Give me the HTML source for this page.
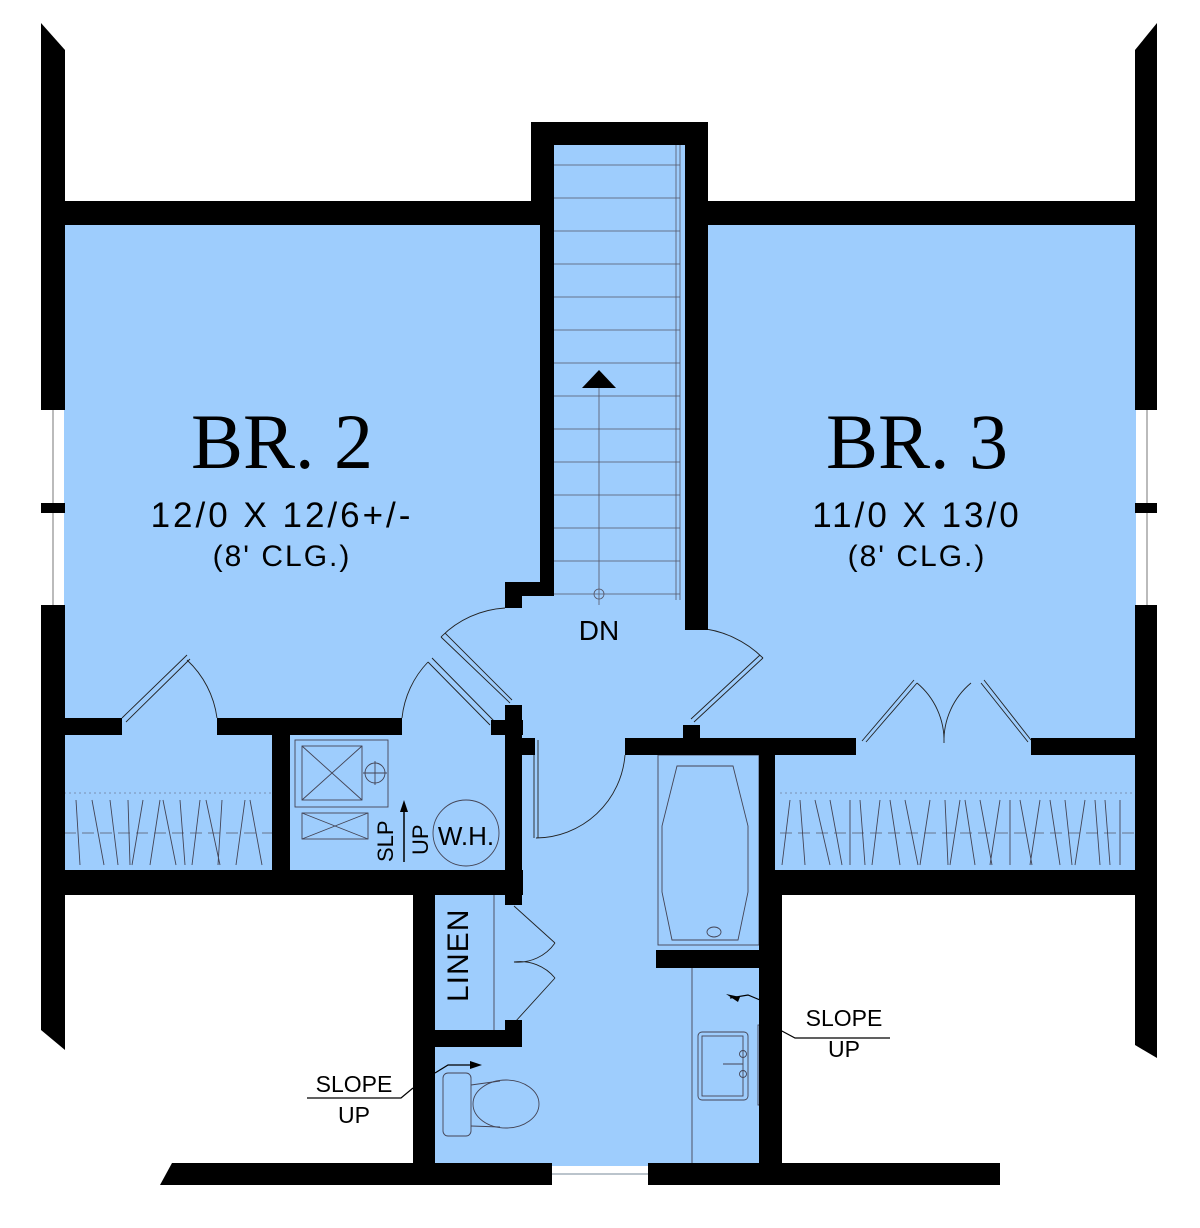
<!DOCTYPE html>
<html><head><meta charset="utf-8"><style>
html,body{margin:0;padding:0;background:#fff;width:1200px;height:1228px;overflow:hidden}
svg{display:block}
.t{font-family:"Liberation Sans",sans-serif;fill:#000}
</style></head><body>
<svg width="1200" height="1228" viewBox="0 0 1200 1228" xmlns="http://www.w3.org/2000/svg">
<!-- blue fills -->
<g fill="#9ecdfd">
<rect x="64" y="224" width="1072" height="648"/>
<rect x="552" y="144" width="134" height="460"/>
<rect x="433" y="870" width="330" height="296"/>
</g>
<!-- window lines -->
<line x1="53" y1="410" x2="53" y2="606" stroke="#777" stroke-width="1"/>
<line x1="1147" y1="410" x2="1147" y2="606" stroke="#777" stroke-width="1"/>
<line x1="552" y1="1174" x2="648" y2="1174" stroke="#789" stroke-width="1"/>
<!-- stairs -->
<g stroke="#556" stroke-width="0.8" fill="none">
<line x1="553" y1="165" x2="680" y2="165"/>
<line x1="553" y1="198" x2="680" y2="198"/>
<line x1="553" y1="231" x2="680" y2="231"/>
<line x1="553" y1="264" x2="680" y2="264"/>
<line x1="553" y1="297" x2="680" y2="297"/>
<line x1="553" y1="330" x2="680" y2="330"/>
<line x1="553" y1="363" x2="680" y2="363"/>
<line x1="553" y1="396" x2="680" y2="396"/>
<line x1="553" y1="429" x2="680" y2="429"/>
<line x1="553" y1="462" x2="680" y2="462"/>
<line x1="553" y1="495" x2="680" y2="495"/>
<line x1="553" y1="528" x2="680" y2="528"/>
<line x1="553" y1="561" x2="680" y2="561"/>
<line x1="553" y1="594" x2="680" y2="594"/>
<line x1="676" y1="145" x2="676" y2="600"/>
<line x1="680" y1="145" x2="680" y2="600"/>
<line x1="599" y1="388" x2="599" y2="605"/>
<circle cx="599" cy="594" r="5"/>
</g>
<polygon points="582,388 616,388 599,370" fill="#000"/>
<!-- closet hatch -->
<g stroke="#556" stroke-width="0.8" fill="none">
<line x1="64" y1="833" x2="272" y2="833" stroke-dasharray="12 6"/>
<line x1="780" y1="833" x2="1135" y2="833" stroke-dasharray="12 6"/>
<line x1="64" y1="793" x2="272" y2="793" stroke-dasharray="2 3" stroke-width="0.5"/>
<line x1="780" y1="793" x2="1135" y2="793" stroke-dasharray="2 3" stroke-width="0.5"/>
</g>
<g stroke="#445" stroke-width="0.9">
<path d="M76 800L80 865M92 800L104 865M110 800L118 865M128 800L130 865M143 800L132 865M160 800L150 865M163 800L176 865M180 800L185 865M200 800L192 865M206 800L220 865M222 800L218 865M245 800L236 865M250 800L262 865"/>
<path d="M790 800L782 865M800 800L805 865M815 800L830 865M830 800L842 865M850 800L850 865M860 800L865 865M880 800L872 865M890 800L900 865M905 800L918 865M930 800L920 865M945 800L948 865M960 800L950 865M965 800L975 865M980 800L992 865M1000 800L990 865M1010 800L1010 865M1020 800L1032 865M1040 800L1030 865M1050 800L1060 865M1065 800L1072 865M1085 800L1075 865M1095 800L1100 865M1105 800L1110 865M1120 800L1120 865"/>
</g>
<!-- fixtures -->
<g stroke="#445" stroke-width="0.9" fill="none">
<rect x="295" y="740" width="93" height="67"/>
<rect x="302" y="746" width="60" height="54"/>
<line x1="302" y1="746" x2="362" y2="800"/><line x1="362" y1="746" x2="302" y2="800"/>
<circle cx="375" cy="773" r="10"/><line x1="363" y1="773" x2="387" y2="773"/><line x1="375" y1="761" x2="375" y2="785"/>
<rect x="302" y="813" width="66" height="26"/>
<line x1="302" y1="813" x2="368" y2="839"/><line x1="368" y1="813" x2="302" y2="839"/>
<circle cx="466" cy="833" r="33"/>
<!-- tub -->
<rect x="658" y="755" width="101" height="190"/>
<polygon points="677,766 733,766 748,826 748,892 738,940 672,940 662,892 662,826"/>
<ellipse cx="714" cy="932" rx="7" ry="5"/>
<line x1="692" y1="968" x2="692" y2="1163"/>
<!-- sink -->
<rect x="698" y="1032" width="50" height="68" rx="4"/>
<rect x="702" y="1036" width="41" height="60"/>
<circle cx="743" cy="1054" r="3.5"/><circle cx="743" cy="1074" r="3.5"/>
<line x1="723" y1="1064" x2="743" y2="1064"/>
<rect x="758" y="1025" width="4" height="80"/>
<!-- toilet -->
<rect x="443" y="1073" width="28" height="63" rx="5"/>
<ellipse cx="506" cy="1104" rx="33" ry="24"/>
<path d="M471 1085L500 1081M471 1126L500 1127"/>
<!-- linen shelf -->
<line x1="494" y1="895" x2="494" y2="1030"/>
</g>
<!-- doors -->
<g stroke="#222" stroke-width="0.9" fill="none">
<path d="M187 660 A96 96 0 0 1 217 718"/>
<path d="M122 718 L187 655 M126 722 L190 659"/>
<path d="M402 718 A95 95 0 0 1 428 662"/>
<path d="M428 662 L490 725 M432 658 L494 721"/>
<path d="M505 608 A98 98 0 0 0 441 637"/>
<path d="M441 637 L510 703 M445 633 L512 700"/>
<path d="M698 628 A105 105 0 0 1 763 658"/>
<path d="M763 658 L694 722 M760 655 L691 719"/>
<path d="M534 740 L534 838 M538 740 L538 838"/>
<path d="M536 838 A90 90 0 0 0 625 755"/>
<path d="M866 742 L917 683 M862 741 L914 680"/>
<path d="M917 683 A75 75 0 0 1 944 743 M944 743 A75 75 0 0 1 971 683"/>
<path d="M981 683 L1028 742 M984 680 L1031 740"/>
<path d="M514 906 L555 943 M515 1022 L555 978"/>
<path d="M555 943 A45 45 0 0 1 514 962 M514 962 A45 45 0 0 1 555 978"/>
</g>
<!-- walls -->
<g fill="#000">
<polygon points="41,23 65,50 65,410 41,410"/>
<rect x="41" y="503" width="24" height="10"/>
<polygon points="41,605 65,605 65,1050 41,1030"/>
<polygon points="1135,50 1157,23 1157,410 1135,410"/>
<rect x="1135" y="503" width="22" height="10"/>
<polygon points="1135,605 1157,605 1157,1058 1135,1045"/>
<rect x="41" y="201" width="505" height="24"/>
<rect x="685" y="201" width="472" height="24"/>
<rect x="531" y="122" width="177" height="23"/>
<rect x="531" y="122" width="23" height="98"/>
<rect x="540" y="200" width="14" height="380"/>
<rect x="685" y="122" width="23" height="508"/>
<polygon points="505,582 540,582 540,565 554,565 554,596 522,596 522,608 505,608"/>
<rect x="41" y="718" width="81" height="17"/>
<rect x="217" y="718" width="185" height="17"/>
<rect x="272" y="735" width="18" height="140"/>
<rect x="41" y="870" width="482" height="25"/>
<rect x="505" y="705" width="17" height="35"/>
<rect x="491" y="720" width="32" height="15"/>
<rect x="505" y="738" width="30" height="17"/>
<rect x="505" y="738" width="17" height="155"/>
<rect x="413" y="893" width="22" height="272"/>
<rect x="505" y="890" width="17" height="15"/>
<rect x="505" y="1020" width="17" height="27"/>
<rect x="413" y="1030" width="109" height="17"/>
<rect x="625" y="738" width="231" height="17"/>
<rect x="683" y="725" width="17" height="15"/>
<rect x="1031" y="738" width="126" height="17"/>
<rect x="759" y="738" width="16" height="140"/>
<rect x="759" y="870" width="398" height="25"/>
<rect x="759" y="870" width="23" height="295"/>
<rect x="656" y="950" width="126" height="18"/>
<polygon points="172,1163 552,1163 552,1185 160,1185"/>
<polygon points="648,1163 1000,1163 1000,1185 648,1185"/>
</g>
<!-- slope arrows -->
<g stroke="#000" stroke-width="1.2" fill="none">
<path d="M307 1098 L401 1098 L413 1088"/>
<path d="M780 1030 L795 1038 L890 1038"/>
<path d="M435 1073 L448 1065 L470 1065"/>
<path d="M760 1000 L748 995 L730 998"/>
</g>
<polygon points="470,1061 482,1065 470,1069" fill="#000"/>
<polygon points="726,994 740,997 738,1002" fill="#000"/>
<!-- text -->
<text x="282" y="468" class="t" font-family="Liberation Serif,serif" font-size="78" text-anchor="middle" style="font-family:'Liberation Serif',serif">BR. 2</text>
<text x="917" y="468" class="t" font-size="78" text-anchor="middle" style="font-family:'Liberation Serif',serif">BR. 3</text>
<text x="282" y="527" class="t" font-size="35" text-anchor="middle" letter-spacing="3">12/0 X 12/6+/-</text>
<text x="282" y="566" class="t" font-size="30" text-anchor="middle" letter-spacing="2">(8' CLG.)</text>
<text x="917" y="527" class="t" font-size="35" text-anchor="middle" letter-spacing="3">11/0 X 13/0</text>
<text x="917" y="566" class="t" font-size="30" text-anchor="middle" letter-spacing="2">(8' CLG.)</text>
<text x="599" y="640" class="t" font-size="28" text-anchor="middle">DN</text>
<text x="466" y="845" class="t" font-size="26" text-anchor="middle">W.H.</text>
<text transform="translate(393,862) rotate(-90)" class="t" font-size="22">SLP</text>
<text transform="translate(428,855) rotate(-90)" class="t" font-size="22">UP</text>
<path d="M404 862 L404 808" stroke="#000" stroke-width="1.5"/>
<polygon points="400,812 404,800 408,812" fill="#000"/>
<text transform="translate(468,1002) rotate(-90)" class="t" font-size="30" letter-spacing="1">LINEN</text>
<text x="354" y="1092" class="t" font-size="23" text-anchor="middle">SLOPE</text>
<text x="354" y="1123" class="t" font-size="23" text-anchor="middle">UP</text>
<text x="844" y="1026" class="t" font-size="23" text-anchor="middle">SLOPE</text>
<text x="844" y="1057" class="t" font-size="23" text-anchor="middle">UP</text>
</svg>
</body></html>
